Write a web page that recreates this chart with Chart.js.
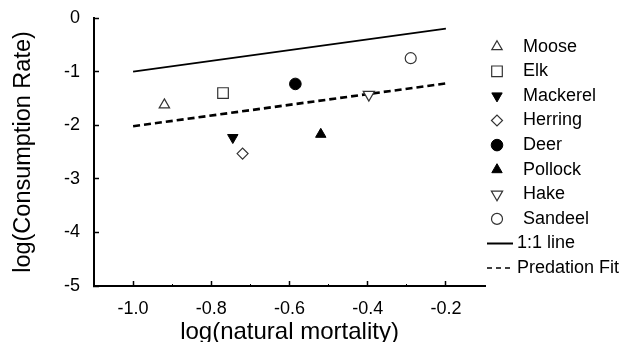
<!DOCTYPE html>
<html>
<head>
<meta charset="utf-8">
<script src="https://cdn.jsdelivr.net/npm/chart.js@4.4.1/dist/chart.umd.min.js"></script>
<style>
  html, body { margin: 0; padding: 0; background: #fff; }
  #wrap { width: 630px; height: 342px; }
</style>
</head>
<body>
<div id="wrap"><canvas id="chart" width="630" height="342"></canvas></div>
<script>
// data
const species = ['Moose', 'Elk', 'Mackerel', 'Herring', 'Deer', 'Pollock', 'Hake', 'Sandeel'];
const logMortality = [-0.92, -0.77, -0.745, -0.72, -0.585, -0.52, -0.397, -0.29];
const logConsumption = [-1.62, -1.40, -2.23, -2.53, -1.23, -2.17, -1.43, -0.75];

const lineX = [-1.0, -0.2];
const oneToOneY = [-1.0, -0.2];
const predationFitY = [-2.02, -1.22];

const xMajorTicks = [-1.0, -0.8, -0.6, -0.4, -0.2];
const xMinorTicks = [-0.9, -0.7, -0.5, -0.3];
const yTicks = [0, -1, -2, -3, -4, -5];

// marker look per species (same order as species)
const markerStyles = [
  { pointStyle: 'triangle', rotation: 0,   radius: 6,   filled: false },
  { pointStyle: 'rect',     rotation: 0,   radius: 7.5, filled: false },
  { pointStyle: 'triangle', rotation: 180, radius: 6,   filled: true  },
  { pointStyle: 'rectRot',  rotation: 0,   radius: 5.5, filled: false },
  { pointStyle: 'circle',   rotation: 0,   radius: 5.8, filled: true  },
  { pointStyle: 'triangle', rotation: 0,   radius: 6,   filled: true  },
  { pointStyle: 'triangle', rotation: 180, radius: 6.5, filled: false },
  { pointStyle: 'circle',   rotation: 0,   radius: 5.5, filled: false },
];

const FONT = '"Liberation Sans", Arial, sans-serif';
Chart.defaults.font.family = FONT;
Chart.defaults.color = '#000';

const pointSets = species.map((name, i) => {
  const st = markerStyles[i];
  return {
    label: name,
    data: [{ x: logMortality[i], y: logConsumption[i] }],
    pointStyle: st.pointStyle,
    pointRotation: st.rotation,
    pointRadius: st.radius,
    backgroundColor: st.filled ? '#000' : '#fff',
    borderColor: st.filled ? '#000' : '#333',
    borderWidth: st.filled ? 1 : 1.2,
    order: 0,
  };
});

const lineSets = [
  {
    label: '1:1 line',
    data: lineX.map((x, i) => ({ x, y: oneToOneY[i] })),
    showLine: true, pointRadius: 0,
    borderColor: '#000', borderWidth: 1.8,
    legendDash: [], legendWidth: 2,
    order: 1,
  },
  {
    label: 'Predation Fit',
    data: lineX.map((x, i) => ({ x, y: predationFitY[i] })),
    showLine: true, pointRadius: 0,
    borderColor: '#000', borderWidth: 2.6, borderDash: [7, 4],
    legendDash: [5, 4], legendWidth: 1.5,
    order: 1,
  },
];

// legend drawn by hand so the markers keep their own sizes
const sideLegend = {
  id: 'sideLegend',
  afterDraw(chart) {
    const ctx = chart.ctx;
    ctx.save();
    ctx.font = '18px ' + FONT;
    ctx.textBaseline = 'middle';
    chart.data.datasets.forEach((ds, i) => {
      const y = 46.7 + i * 24.6;
      if (ds.showLine) {
        ctx.beginPath();
        ctx.setLineDash(ds.legendDash);
        ctx.lineWidth = ds.legendWidth;
        ctx.strokeStyle = ds.borderColor;
        ctx.moveTo(487, y);
        ctx.lineTo(513, y);
        ctx.stroke();
        ctx.setLineDash([]);
        ctx.fillStyle = '#000';
        ctx.fillText(ds.label, 517, y);
      } else {
        ctx.fillStyle = ds.backgroundColor;
        ctx.strokeStyle = ds.borderColor;
        ctx.lineWidth = ds.borderWidth;
        Chart.helpers.drawPoint(ctx, {
          pointStyle: ds.pointStyle,
          rotation: ds.pointRotation,
          radius: ds.pointRadius,
          borderWidth: ds.borderWidth,
        }, 497, y);
        ctx.fillStyle = '#000';
        ctx.fillText(ds.label, 523, y);
      }
    });
    ctx.restore();
  }
};

const setTicks = values => scale => { scale.ticks = values.map(v => ({ value: v })); };

new Chart(document.getElementById('chart'), {
  type: 'scatter',
  data: { datasets: pointSets.concat(lineSets) },
  plugins: [sideLegend],
  options: {
    responsive: false,
    animation: false,
    events: [],
    layout: { padding: { left: 0, top: 18, right: 145, bottom: 0 } },
    plugins: { legend: { display: false }, tooltip: { enabled: false } },
    scales: {
      x: {
        type: 'linear', position: 'bottom', weight: 1,
        min: -1.1, max: -0.1,
        afterBuildTicks: setTicks(xMajorTicks),
        afterFit(s) { s.height = 56; },
        border: { color: '#000', width: 2 },
        grid: { drawOnChartArea: false, tickLength: -5, tickColor: '#000', tickWidth: 1.5 },
        ticks: {
          padding: 17, color: '#000', font: { size: 18 },
          callback: v => v.toFixed(1),
        },
        title: {
          display: true, text: 'log(natural mortality)', color: '#000',
          font: { size: 24, lineHeight: 1 }, padding: { top: 0, bottom: -2 },
        },
      },
      xm: {
        type: 'linear', position: 'bottom', weight: 0,
        min: -1.1, max: -0.1,
        afterBuildTicks: setTicks(xMinorTicks),
        afterFit(s) { s.height = 0; },
        border: { display: false },
        grid: { drawOnChartArea: false, tickLength: -2, tickColor: '#000', tickWidth: 1 },
        ticks: { display: false },
      },
      y: {
        type: 'linear', position: 'left',
        min: -5, max: 0,
        afterBuildTicks: setTicks(yTicks),
        afterFit(s) { s.width = 94; s.paddingTop = 0; s.paddingBottom = 0; },
        border: { color: '#000', width: 2 },
        grid: { drawOnChartArea: false, tickLength: -5, tickColor: '#000', tickWidth: 1.5 },
        ticks: {
          padding: 19, color: '#000', font: { size: 18 },
          callback: v => String(v),
        },
        title: {
          display: true, text: 'log(Consumption Rate)', color: '#000',
          font: { size: 23.5, lineHeight: 1 }, padding: { top: 11.5, bottom: 0 },
        },
      },
    },
  },
});
</script>
</body>
</html>
